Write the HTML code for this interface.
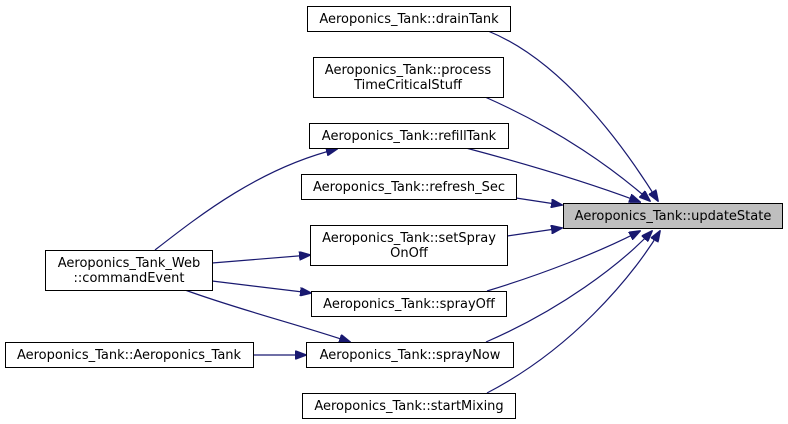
<!DOCTYPE html>
<html><head><meta charset="utf-8"><style>
html,body{margin:0;padding:0;background:#fff;width:788px;height:424px;overflow:hidden}
svg text{font-family:"DejaVu Sans","Liberation Sans",sans-serif;font-size:13px;fill:#000}
</style></head><body>
<svg width="788" height="424" xmlns="http://www.w3.org/2000/svg">
<defs><marker id="a" markerWidth="12" markerHeight="9" refX="11" refY="4.5" orient="auto" markerUnits="userSpaceOnUse"><path d="M0,0 L12,4.5 L0,9 Z" fill="#191970" stroke="#191970"/></marker></defs>
<g fill="none" stroke="#191970" stroke-width="1.2" marker-end="url(#a)">
<path d="M488,31 C560,60 620,140 658,201"/>
<path d="M485,97 C560,130 615,170 650,201"/>
<path d="M466,148 C530,165 595,185 640,202"/>
<path d="M516,198 L562,205"/>
<path d="M507,236 L562,228"/>
<path d="M487,291 C540,275 600,252 640,231"/>
<path d="M486,342 C560,310 620,265 652,231"/>
<path d="M487,393 C570,350 630,280 660,231"/>
<path d="M155,250 C200,215 260,168 337,149"/>
<path d="M212,263 L310,255"/>
<path d="M212,281 L311,293"/>
<path d="M185,290 C240,310 300,325 350,342"/>
<path d="M253,355 L306,355"/>
</g>
<g stroke="#000" stroke-width="1" fill="#fff">
<rect x="307.5" y="6.5" width="203" height="25"/>
<rect x="313.5" y="57.5" width="190" height="40"/>
<rect x="309.5" y="123.5" width="199" height="25"/>
<rect x="301.5" y="174.5" width="215" height="25"/>
<rect x="563.5" y="203.5" width="219" height="25" fill="#bfbfbf"/>
<rect x="310.5" y="225.5" width="197" height="40"/>
<rect x="45.5" y="250.5" width="167" height="40"/>
<rect x="311.5" y="291.5" width="195" height="25"/>
<rect x="5.5" y="342.5" width="248" height="25"/>
<rect x="306.5" y="342.5" width="207" height="25"/>
<rect x="302.5" y="393.5" width="213" height="25"/>
</g>
<g text-anchor="middle">
<text x="409" y="23">Aeroponics_Tank::drainTank</text>
<text x="408" y="74">Aeroponics_Tank::process</text>
<text x="408" y="89">TimeCriticalStuff</text>
<text x="409" y="140">Aeroponics_Tank::refillTank</text>
<text x="409" y="191">Aeroponics_Tank::refresh_Sec</text>
<text x="673" y="220">Aeroponics_Tank::updateState</text>
<text x="409" y="242">Aeroponics_Tank::setSpray</text>
<text x="409" y="257">OnOff</text>
<text x="129" y="267">Aeroponics_Tank_Web</text>
<text x="129" y="282">::commandEvent</text>
<text x="409" y="308">Aeroponics_Tank::sprayOff</text>
<text x="129" y="359">Aeroponics_Tank::Aeroponics_Tank</text>
<text x="410" y="359">Aeroponics_Tank::sprayNow</text>
<text x="409" y="410">Aeroponics_Tank::startMixing</text>
</g>
</svg>
</body></html>
